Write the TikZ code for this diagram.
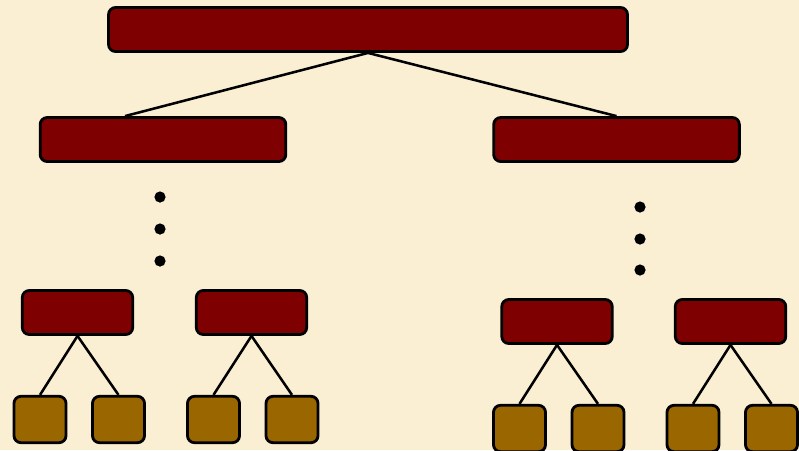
\documentclass[tikz,border=0pt]{standalone}
\usepackage{tikz}
\usetikzlibrary{calc}

\definecolor{paper}{HTML}{FAEFD2}
\definecolor{maroonbox}{HTML}{7F0000}
\definecolor{leafbrown}{HTML}{996600}

\begin{document}
\begin{tikzpicture}[
        x=0.025cm, y=-0.025cm,
        % Define styles
        bar/.style={draw, line width=2pt, rounded corners=5pt, fill=maroonbox, inner sep=0pt, minimum height=1.1cm},
        root/.style={bar, minimum width=12.97cm},
        branch/.style={bar, minimum width=6.14cm},
        twig/.style={bar, minimum width=2.76cm},
        leaf/.style={draw, line width=2pt, rounded corners=5pt, fill=leafbrown, inner sep=0pt, minimum width=1.3cm, minimum height=1.16cm},
        edge/.style={line width=1.8pt},
        vdot/.style={circle, fill=black, inner sep=0pt, minimum size=0.28cm}
    ]

    % Background
    \fill[paper] (0,0) rectangle (799,450);
    \useasboundingbox (0,0) rectangle (799,450);

    % 1. Root and first level
    \node[root] (top) at (368, 29.5) {};
    \node[branch] (bl) at (163, 139.5) {};
    \node[branch] (br) at (616.5, 139.5) {};

    \draw[edge] (top.south) -- ($(bl.north)+(-38,0)$);
    \draw[edge] (top.south) -- (br.north);

    % 2. Vertical dots
    \node[vdot] (dl1) at (160, 197) {};
    \node[vdot] (dl2) at (160, 229) {};
    \node[vdot] (dl3) at (160, 261) {};
    \node[vdot] (dr1) at (640, 207) {};
    \node[vdot] (dr2) at (640, 239) {};
    \node[vdot] (dr3) at (640, 270) {};

    % 3. Lower subtrees (left)
    \node[twig] (ta) at (77.5, 312.5) {};
    \node[twig] (tb) at (251.5, 312.5) {};
    \node[leaf] (la1) at (40, 419.5) {};
    \node[leaf] (la2) at (118.5, 419.5) {};
    \node[leaf] (lb1) at (213.5, 419.5) {};
    \node[leaf] (lb2) at (292, 419.5) {};

    \draw[edge] (ta.south) -- (la1.north);
    \draw[edge] (ta.south) -- (la2.north);
    \draw[edge] (tb.south) -- (lb1.north);
    \draw[edge] (tb.south) -- (lb2.north);

    % 4. Lower subtrees (right)
    \node[twig] (tc) at (557, 321.5) {};
    \node[twig] (td) at (730.5, 321.5) {};
    \node[leaf] (lc1) at (519.5, 428.5) {};
    \node[leaf] (lc2) at (598, 428.5) {};
    \node[leaf] (ld1) at (693, 428.5) {};
    \node[leaf] (ld2) at (771.5, 428.5) {};

    \draw[edge] (tc.south) -- (lc1.north);
    \draw[edge] (tc.south) -- (lc2.north);
    \draw[edge] (td.south) -- (ld1.north);
    \draw[edge] (td.south) -- (ld2.north);

\end{tikzpicture}
\end{document}
